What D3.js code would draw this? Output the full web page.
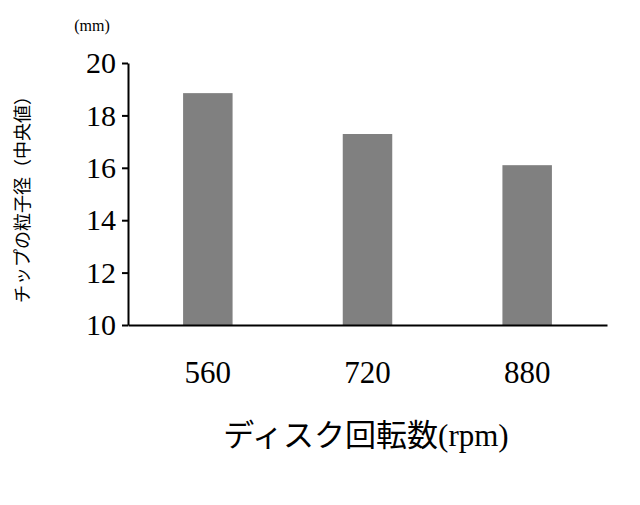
<!DOCTYPE html>
<html><head><meta charset="utf-8">
<script src="https://cdn.jsdelivr.net/npm/d3@7"></script>
<style>body{margin:0;background:#fff}</style></head>
<body><svg id="c" width="640" height="505"></svg>
<script>
const categories = ["560","720","880"];
const values = [18.85, 17.29, 16.1];
const yTicks = [10,12,14,16,18,20];
const svg = d3.select("#c");
const x = d3.scaleBand().domain(categories).range([128,607]).paddingInner(0.69).paddingOuter(0.345);
const y = d3.scaleLinear().domain([10,20]).range([325,63]);
svg.selectAll("rect").data(values).join("rect")
  .attr("x",(d,i)=>x(categories[i])).attr("width",x.bandwidth())
  .attr("y",d=>y(d)).attr("height",d=>y(10)-y(d)).attr("fill","#808080");
const ya = svg.append("g").attr("transform","translate(128,0)")
  .call(d3.axisLeft(y).tickValues(yTicks).tickSize(6).tickSizeOuter(0));
ya.select(".domain").attr("stroke","#000").attr("stroke-width",2);
ya.selectAll(".tick line").attr("stroke","#000").attr("stroke-width",2);
ya.selectAll("text").attr("font-family","Liberation Serif").attr("font-size",30).attr("fill","#000").attr("x",-12);
const xa = svg.append("g").attr("transform","translate(0,325)")
  .call(d3.axisBottom(x).tickSize(0).tickSizeOuter(0));
xa.select(".domain").attr("stroke","#000").attr("stroke-width",2);
xa.selectAll("text").attr("font-family","Liberation Serif").attr("font-size",31).attr("fill","#000").attr("dy",0).attr("y",58);
svg.append("text").attr("x",366).attr("y",446).attr("text-anchor","middle")
  .attr("font-family","'Liberation Serif','Noto Sans CJK JP'").attr("font-size",31).text("ディスク回転数(rpm)");
svg.append("text").attr("transform","translate(29,195) rotate(-90)").attr("text-anchor","middle")
  .attr("font-family","Noto Sans CJK JP").attr("font-size",18).text("チップの粒子径（中央値）");
svg.append("text").attr("x",92).attr("y",31).attr("text-anchor","middle")
  .attr("font-family","Liberation Serif").attr("font-size",16).text("(mm)");
</script></body></html>
